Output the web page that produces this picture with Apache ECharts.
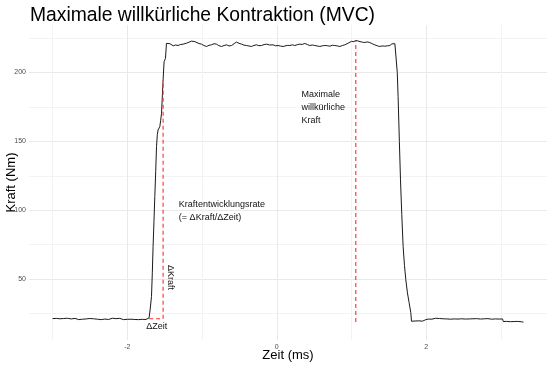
<!DOCTYPE html>
<html>
<head>
<meta charset="utf-8">
<script src="https://cdn.jsdelivr.net/npm/echarts@6/dist/echarts.min.js"></script>
<style>html,body{margin:0;padding:0;background:#fff}#c{width:550px;height:367px}</style>
</head>
<body>
<div id="c"></div>
<script>
// ---- data ----
const time = [
-3.000,-2.975,-2.950,-2.925,-2.900,-2.875,-2.850,-2.825,-2.800,-2.775,-2.750,-2.725,-2.700,-2.675,-2.650,-2.625,-2.600,-2.575,-2.550,-2.525,
-2.500,-2.475,-2.450,-2.425,-2.400,-2.375,-2.350,-2.325,-2.300,-2.275,-2.250,-2.225,-2.200,-2.175,-2.150,-2.125,-2.100,-2.075,-2.050,-2.025,
-2.000,-1.975,-1.950,-1.925,-1.900,-1.875,-1.850,-1.825,-1.800,-1.775,-1.750,-1.725,
-1.708,-1.692,-1.676,-1.665,-1.655,-1.643,-1.632,-1.620,-1.609,-1.598,-1.588,-1.576,-1.565,-1.554,-1.542,-1.531,-1.521,-1.508,-1.497,-1.489,-1.476,
-1.468,-1.450,-1.430,-1.409,-1.385,-1.355,-1.320,-1.290,-1.253,-1.230,-1.208,-1.175,-1.141,-1.120,-1.095,-1.074,-1.040,-1.007,-0.975,-0.940,
-0.905,-0.874,-0.840,-0.807,-0.775,-0.740,-0.705,-0.673,-0.640,-0.606,-0.570,-0.539,-0.505,-0.472,-0.440,-0.405,-0.370,-0.338,-0.305,-0.272,
-0.240,-0.205,-0.170,-0.138,-0.095,-0.049,-0.015,0.017,0.050,0.084,0.107,0.140,0.174,0.210,0.241,0.275,0.308,0.340,0.375,0.410,
0.441,0.475,0.508,0.540,0.575,0.610,0.642,0.675,0.709,0.742,0.776,0.810,0.843,0.877,0.910,0.954,0.999,1.030,1.057,1.085,
1.110,1.145,1.177,1.210,1.244,1.280,1.311,1.345,1.378,1.410,1.445,1.480,1.512,1.540,1.556,1.580,1.601,
1.612,1.623,1.640,1.655,1.672,1.690,1.708,1.726,1.748,1.770,1.793,1.802,
1.825,1.850,1.875,1.900,1.925,1.950,1.975,1.990,2.000,2.025,2.050,2.075,2.100,2.125,2.150,2.175,2.200,2.225,2.250,2.275,
2.300,2.325,2.350,2.375,2.400,2.425,2.450,2.475,2.500,2.525,2.550,2.575,2.600,2.625,2.650,2.675,2.700,2.725,2.750,2.775,
2.800,2.825,2.850,2.875,2.900,2.925,2.950,2.975,3.000,3.020,3.030,3.050,3.075,3.100,3.125,3.150,3.175,3.200,3.225,3.250,3.275,3.300
];
const force = [
21.3,20.8,21.5,20.9,21.2,20.6,21.4,21.0,21.6,20.8,21.1,20.7,21.5,21.0,20.6,21.3,20.9,21.6,21.1,20.7,
21.4,20.8,21.2,21.7,20.9,21.3,20.6,21.5,21.0,21.4,20.7,21.2,21.6,20.9,21.3,20.8,21.5,21.0,20.6,21.2,
20.8,21.4,20.9,21.3,20.7,21.1,20.6,21.2,20.8,21.3,20.7,21.1,
21.9,29.0,37.5,55.0,73.8,92.0,110.0,128.0,146.2,155.0,158.3,159.5,160.7,165.0,170.4,183.0,194.6,207.8,209.0,210.3,221.2,
221.2,220.4,220.9,220.1,219.4,220.0,219.6,220.3,220.6,220.2,221.3,222.0,222.8,222.6,222.4,222.1,221.0,220.6,219.6,218.9,
219.8,220.1,220.9,220.6,219.5,218.9,219.6,220.1,219.3,219.6,221.0,222.1,221.2,220.6,219.9,219.6,219.2,218.9,219.7,220.1,
219.5,219.6,220.3,220.6,220.0,220.1,219.4,219.6,219.2,218.9,220.1,219.7,219.6,220.1,219.6,220.2,220.6,220.4,221.1,220.3,
219.6,220.0,219.6,219.3,218.9,219.4,219.6,219.5,219.1,219.8,219.6,219.3,218.9,219.6,220.1,221.3,222.6,222.4,223.3,222.9,
222.6,222.0,221.8,222.2,221.8,220.8,220.1,219.4,218.9,219.3,219.1,219.4,219.6,220.8,221.3,220.9,220.6,
200.0,182.5,150.0,122.1,97.0,73.8,60.0,49.6,40.0,33.0,25.7,19.4,
19.0,19.6,19.2,19.7,19.1,19.5,19.8,20.5,21.3,21.0,21.5,20.9,21.3,21.6,21.0,21.4,20.8,21.2,21.7,21.1,
21.4,20.9,21.5,21.1,21.6,21.0,21.4,21.2,21.7,21.0,21.5,21.1,21.6,21.2,21.8,21.3,21.5,21.0,21.6,21.2,
21.7,21.3,21.5,20.9,21.4,21.1,21.5,21.0,21.3,21.1,19.2,18.8,19.3,18.7,19.1,18.6,19.2,18.8,19.3,18.7,19.0,18.8
];
// dashed reference lines
const dashZeitX = [-1.708, -1.521], dashZeitY = [21.2, 21.2];
const dashKraftX = [-1.521, -1.521], dashKraftY = [21.2, 194.6];
const dashMaxX = [1.057, 1.057], dashMaxY = [18.8, 223.3];
// annotations
const annoText = ['Kraftentwicklungsrate\n(= \u0394Kraft/\u0394Zeit)', 'Maximale\nwillk\u00fcrliche\nKraft', '\u0394Kraft', '\u0394Zeit'];
const annoX = [-1.31, 0.33, -1.422, -1.605];
const annoY = [99.3, 174.5, 51.1, 15.7];
// ticks
const xMajor = [-2, 0, 2];
const xMinor = [-3, -1, 1, 3];
const yMajor = [50, 100, 150, 200];
const yMinor = [25, 75, 125, 175, 225];
const xMin = -3.315, xMax = 3.615, yMin = 5.8, yMax = 234.5;

const FONT = 'Liberation Sans, Arial, sans-serif';
const chart = echarts.init(document.getElementById('c'), null, {renderer: 'canvas'});
const zip = (a, b) => a.map((v, i) => [v, b[i]]);
const dashed = (xs, ys) => ({
  type: 'line', data: zip(xs, ys), symbol: 'none', silent: true, z: 3,
  lineStyle: {color: '#ff2a2a', width: 1.1, type: [4, 3]}
});
chart.setOption({
  animation: false,
  backgroundColor: '#fff',
  title: {text: 'Maximale willkürliche Kontraktion (MVC)', left: 30, top: 6, padding: 0,
    textStyle: {fontSize: 19.3, fontWeight: 'normal', color: '#000', fontFamily: FONT}},
  grid: {left: 29, right: 3, top: 25, bottom: 27, containLabel: false, outerBoundsMode: 'none'},
  xAxis: [{
    type: 'value', min: xMin, max: xMax,
    axisLine: {show: false}, axisTick: {show: false, customValues: xMajor},
    axisLabel: {customValues: xMajor, fontSize: 7, color: '#4d4d4d', margin: 4, fontFamily: FONT},
    splitLine: {show: true, lineStyle: {color: '#e9e9e9', width: 1}},
    name: 'Zeit (ms)', nameLocation: 'middle', nameGap: 9, nameMoveOverlap: false,
    nameTextStyle: {fontSize: 13, color: '#000', fontFamily: FONT}
  }, {
    type: 'value', min: xMin, max: xMax, position: 'top',
    axisLine: {show: false}, axisTick: {show: false, customValues: xMinor},
    axisLabel: {show: false},
    splitLine: {show: true, lineStyle: {color: '#f3f3f3', width: 1}}
  }],
  yAxis: [{
    type: 'value', min: yMin, max: yMax,
    axisLine: {show: false}, axisTick: {show: false, customValues: yMajor},
    axisLabel: {customValues: yMajor, fontSize: 7, color: '#4d4d4d', margin: 3, fontFamily: FONT},
    splitLine: {show: true, lineStyle: {color: '#e9e9e9', width: 1}},
    name: 'Kraft (Nm)', nameLocation: 'middle', nameGap: 11.5, nameRotate: 90, nameMoveOverlap: false,
    nameTextStyle: {fontSize: 13, color: '#000', fontFamily: FONT}
  }, {
    type: 'value', min: yMin, max: yMax, position: 'right',
    axisLine: {show: false}, axisTick: {show: false, customValues: yMinor},
    axisLabel: {show: false},
    splitLine: {show: true, lineStyle: {color: '#f3f3f3', width: 1}}
  }],
  series: [
    {type: 'line', data: zip(time, force), symbol: 'none', z: 2,
     lineStyle: {color: '#1a1a1a', width: 1}},
    dashed(dashZeitX, dashZeitY),
    dashed(dashKraftX, dashKraftY),
    dashed(dashMaxX, dashMaxY)
  ]
});
const g = annoText.map((t, i) => {
  const p = chart.convertToPixel({gridIndex: 0}, [annoX[i], annoY[i]]);
  const rot = i === 2;
  const center = i >= 2;
  return {
    type: 'text', x: p[0], y: p[1], rotation: rot ? -Math.PI / 2 : 0, z: 10,
    style: {text: t, fontSize: 9, lineHeight: 13, fill: '#111', fontFamily: FONT,
      align: center ? 'center' : 'left', verticalAlign: 'middle'}
  };
});
chart.setOption({graphic: g});
</script>
</body>
</html>
